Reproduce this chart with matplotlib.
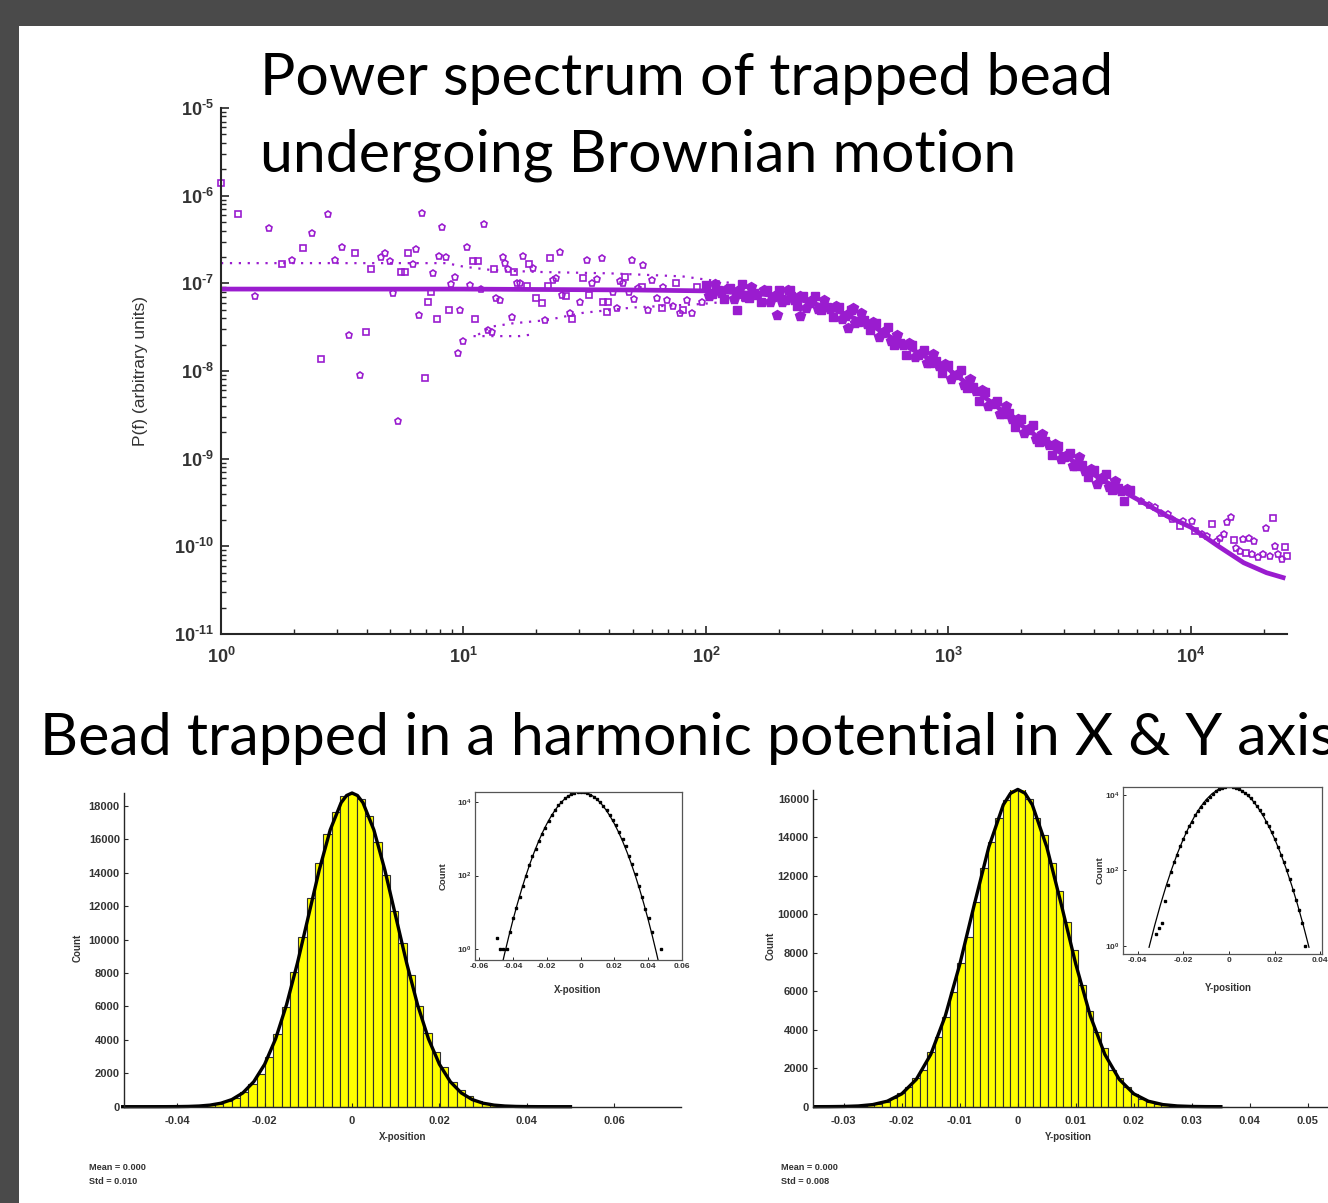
import numpy as np
import matplotlib.pyplot as plt
from matplotlib.patches import Rectangle
from matplotlib.ticker import LogLocator, NullFormatter, NullLocator

W, H = 1328, 1203
PURPLE = '#9a1ccf'
INK = '#262626'
LABEL = '#333333'

plt.rcParams['font.family'] = ['Liberation Sans', 'DejaVu Sans']
plt.rcParams['mathtext.fontset'] = 'custom'
plt.rcParams['mathtext.rm'] = 'Liberation Sans'
plt.rcParams['mathtext.bf'] = 'Liberation Sans:bold'

# ---- power spectrum (Hz, arbitrary units) ----
fit_f = [1, 10, 50, 100, 130, 166, 200, 245, 290, 333, 400, 475, 550, 630, 800,
         1000, 1200, 1500, 2000, 2850, 4230, 6300, 8000, 10000, 13000, 16500, 20500, 24000]
fit_P = [8.6e-8, 8.6e-8, 8.4e-8, 8.2e-8, 7.9e-8, 7.6e-8, 7.1e-8, 6.5e-8, 5.7e-8, 5.1e-8, 4.1e-8,
         3.4e-8, 2.65e-8, 2.1e-8, 1.47e-8, 1.05e-8, 7.1e-9, 4.4e-9, 2.4e-9, 1.2e-9, 5.9e-10,
         3.2e-10, 2.2e-10, 1.65e-10, 1.0e-10, 6.5e-11, 5.0e-11, 4.4e-11]

upper_f = [1, 8.5, 10, 13, 20, 40, 80, 130]
upper_P = [1.7e-7, 1.7e-7, 1.55e-7, 1.42e-7, 1.35e-7, 1.3e-7, 1.2e-7, 1.0e-7]
lower_f = [11.5, 13, 16, 22, 31, 50, 95, 150]
lower_P = [2.6e-8, 3.2e-8, 3.5e-8, 3.8e-8, 4.6e-8, 5.3e-8, 5.8e-8, 6.5e-8]
lower2_f = [11, 12.5, 14.5, 17, 19]
lower2_P = [2.5e-8, 2.5e-8, 2.5e-8, 2.5e-8, 2.6e-8]

sq_f = [1.0, 1.18, 1.78, 2.17, 2.58, 3.57, 3.95, 4.15, 5.52, 5.74,
        5.92, 6.94, 7.16, 7.33, 7.75, 8.74, 10.9, 11.5, 11.2, 13.3,
        16.2, 18.2, 18.7, 20.0, 21.0, 22.7, 22.4, 26.5, 27.9, 31.2,
        33.0, 37.7, 39.6, 39.2, 46.3, 54.3, 65.7, 75.2, 80.2, 92.1]
sq_P = [1.38e-6, 6.2e-7, 1.66e-7, 2.5e-7, 1.36e-8, 2.2e-7, 2.77e-8, 1.46e-7, 1.34e-7, 1.34e-7,
        2.23e-7, 8.35e-9, 6.2e-8, 7.9e-8, 3.9e-8, 5.0e-8, 1.8e-7, 1.8e-7, 3.9e-8, 1.46e-7,
        1.34e-7, 9.4e-8, 1.65e-7, 6.8e-8, 5.9e-8, 1.96e-7, 9.4e-8, 7.2e-8, 3.9e-8, 1.15e-7,
        7.4e-8, 6.1e-8, 6.1e-8, 4.7e-8, 1.17e-7, 9.0e-8, 5.2e-8, 1.0e-7, 5.0e-8, 9.2e-8]

pt_f = [1.38, 1.58, 1.97, 2.37, 2.75, 2.96, 3.16, 3.37, 3.75, 4.56,
        4.75, 4.96, 5.14, 5.36, 6.17, 6.35, 6.55, 6.74, 7.5, 7.92,
        8.13, 8.45, 8.88, 9.25, 9.49, 9.68, 10.0, 10.3, 10.6, 11.8,
        12.2, 12.6, 13.1, 13.6, 14.1, 14.5, 14.9, 15.3, 15.8, 16.7,
        17.1, 17.6, 19.3, 21.7, 23.5, 24.1, 24.9, 25.4, 27.5, 30.2,
        32.2, 33.8, 35.4, 37.2, 41.5, 42.8, 44.2, 45.4, 48.3, 49.4,
        50.5, 52.6, 55.2, 57.8, 59.7, 62.6, 66.7, 68.8, 72.9, 78.1,
        83.2, 87.3, 96.0]
pt_P = [7.2e-8, 4.3e-7, 1.85e-7, 3.8e-7, 6.2e-7, 1.85e-7, 2.57e-7, 2.6e-8, 8.95e-9, 2.0e-7,
        2.23e-7, 1.81e-7, 7.7e-8, 2.72e-9, 1.65e-7, 2.44e-7, 4.4e-8, 6.4e-7, 1.32e-7, 2.05e-7,
        4.4e-7, 1.98e-7, 9.8e-8, 1.19e-7, 1.62e-8, 4.9e-8, 2.2e-8, 2.6e-7, 9.6e-8, 8.6e-8,
        4.7e-7, 2.97e-8, 2.77e-8, 6.8e-8, 6.4e-8, 2.0e-7, 1.72e-7, 1.45e-7, 4.1e-8, 1.02e-7,
        1.0e-7, 2.07e-7, 1.49e-7, 3.86e-8, 1.1e-7, 1.14e-7, 2.29e-7, 7.4e-8, 4.6e-8, 6.1e-8,
        1.85e-7, 1.0e-7, 1.11e-7, 1.93e-7, 7.9e-8, 5.3e-8, 1.05e-7, 1.0e-7, 7.9e-8, 1.85e-7,
        6.6e-8, 8.8e-8, 1.62e-7, 4.9e-8, 1.09e-7, 6.8e-8, 9.2e-8, 6.5e-8, 5.5e-8, 4.6e-8,
        6.5e-8, 4.6e-8, 6.2e-8]

# dense filled band, squares
band_sq_f = [100, 106, 112, 119, 126, 133, 141, 150, 158, 168, 178, 188, 200, 211, 224, 237,
             251, 266, 282, 299, 316, 335, 355, 376, 398, 422, 447, 473, 501, 531, 562, 596,
             631, 668, 708, 750, 794, 841, 891, 944, 1000, 1059, 1122, 1189, 1259, 1334, 1413,
             1496, 1585, 1679, 1778, 1884, 1995, 2113, 2239, 2371, 2512, 2661, 2818, 2985, 3162,
             3350, 3548, 3758, 3981, 4217, 4467, 4732, 5012, 5309, 5623]
band_sq_P = [9.6e-8, 7.5e-8, 8.4e-8, 6.7e-8, 8.9e-8, 7.6e-8, 9.7e-8, 6.8e-8, 7.8e-8, 6.1e-8,
             8.5e-8, 6.9e-8, 8.3e-8, 6.4e-8, 7.1e-8, 5.5e-8, 7.1e-8, 5.9e-8, 7.2e-8, 4.9e-8,
             5.4e-8, 4.1e-8, 5.4e-8, 4.2e-8, 4.9e-8, 3.6e-8, 3.8e-8, 2.9e-8, 3.5e-8, 2.7e-8,
             3.2e-8, 2.0e-8, 2.1e-8, 1.54e-8, 2.0e-8, 1.54e-8, 1.74e-8, 1.25e-8, 1.3e-8, 9.6e-9,
             1.18e-8, 9.0e-9, 1.02e-8, 6.4e-9, 6.5e-9, 4.5e-9, 5.7e-9, 4.2e-9, 4.6e-9, 3.2e-9,
             3.3e-9, 2.3e-9, 2.8e-9, 2.1e-9, 2.4e-9, 1.53e-9, 1.58e-9, 1.11e-9, 1.41e-9, 1.05e-9,
             1.17e-9, 8.3e-10, 8.5e-10, 6.1e-10, 7.4e-10, 5.8e-10, 6.7e-10, 4.4e-10, 4.6e-10,
             3.3e-10, 4.4e-10]
# dense filled band, pentagons
band_pt_f = [103, 109, 115.5, 122, 130, 137, 145, 154, 163, 173, 183, 194, 205, 218, 230, 244,
             259, 274, 290, 307, 325, 345, 365, 387, 410, 434, 460, 487, 516, 546, 579, 613,
             649, 688, 729, 772, 818, 866, 917, 972, 1029, 1090, 1155, 1223, 1296, 1373, 1454,
             1540, 1632, 1728, 1830, 1939, 2054, 2176, 2305, 2441, 2586, 2739, 2901, 3073, 3255,
             3448, 3652, 3868, 4097, 4340, 4597, 4870, 5158, 5464]
band_pt_P = [7.1e-8, 9.8e-8, 7.7e-8, 8.7e-8, 6.6e-8, 8.4e-8, 7.0e-8, 9.0e-8, 7.4e-8, 8.4e-8,
             6.2e-8, 7.4e-8, 6.1e-8, 8.3e-8, 6.4e-8, 7.1e-8, 5.2e-8, 6.4e-8, 5.1e-8, 6.4e-8,
             5.1e-8, 5.5e-8, 3.9e-8, 4.45e-8, 3.5e-8, 4.6e-8, 3.4e-8, 3.6e-8, 2.46e-8, 2.87e-8,
             2.19e-8, 2.58e-8, 1.96e-8, 2.06e-8, 1.43e-8, 1.6e-8, 1.23e-8, 1.58e-8, 1.14e-8, 1.2e-8,
             8.2e-9, 9.3e-9, 6.95e-9, 8.0e-9, 5.9e-9, 6.0e-9, 4.0e-9, 4.3e-9, 3.23e-9, 4.0e-9,
             2.81e-9, 2.87e-9, 1.94e-9, 2.22e-9, 1.66e-9, 1.93e-9, 1.43e-9, 1.46e-9, 9.9e-10,
             1.09e-9, 8.2e-10, 1.04e-9, 7.3e-10, 7.6e-10, 5.2e-10, 6.1e-10, 4.7e-10, 5.6e-10,
             4.25e-10, 4.46e-10]
band_out_sq_f = [134, 222]
band_out_sq_P = [5.0e-8, 8.5e-8]
band_out_pt_f = [197, 244, 385, 404]
band_out_pt_P = [4.4e-8, 4.2e-8, 3.1e-8, 5.3e-8]

hf_sq_f = [9010, 10400, 12250, 15040, 16860, 21710, 24400, 24940]
hf_sq_P = [1.69e-10, 1.48e-10, 1.81e-10, 1.17e-10, 8.4e-11, 2.1e-10, 9.8e-11, 7.7e-11]
hf_pt_f = [6200, 6700, 7110, 7500, 8070, 8330, 9250, 10070, 11080, 11600, 12760, 13180, 13680,
           14120, 14630, 15340, 15930, 16430, 17350, 17780, 18240, 18940, 19870, 20370, 21160,
           22200, 22900, 23650]
hf_pt_P = [3.3e-10, 3.0e-10, 2.8e-10, 2.4e-10, 2.33e-10, 2.06e-10, 1.95e-10, 1.92e-10, 1.38e-10,
           1.3e-10, 1.14e-10, 1.25e-10, 1.38e-10, 1.89e-10, 2.15e-10, 9.6e-11, 8.8e-11, 1.22e-10,
           1.25e-10, 8.2e-11, 1.16e-10, 7.5e-11, 8.2e-11, 1.62e-10, 7.7e-11, 1.02e-10, 8.1e-11,
           7.1e-11]

# ---- position histograms ----
x_first_edge, x_bin_width = -0.05236, 0.001908
x_counts = [0, 2, 1, 1, 1, 3, 7, 13, 27, 52, 100, 190, 330, 520, 870, 1350, 1950, 2950, 4350,
            5950, 8050, 10150, 12500, 14600, 16300, 17650, 18600, 18750, 18400, 17400, 15850,
            13850, 11700, 9800, 7880, 6000, 4400, 3250, 2350, 1500, 1000, 620, 350, 200, 110,
            52, 27, 12, 7, 3, 0, 0, 1]
fitx_x = [-0.0525, -0.05, -0.0475, -0.045, -0.0425, -0.04, -0.0375, -0.035, -0.0325, -0.03,
          -0.0275, -0.025, -0.0225, -0.02, -0.0175, -0.015, -0.0125, -0.01, -0.0075, -0.005,
          -0.0025, -0.00125, 0, 0.00125, 0.0025, 0.005, 0.0075, 0.01, 0.0125, 0.015, 0.0175,
          0.02, 0.0225, 0.025, 0.0275, 0.03, 0.0325, 0.035, 0.0375, 0.04, 0.0425, 0.045,
          0.0475, 0.05]
fitx_y = [0.019, 0.070, 0.237, 0.75, 2.24, 6.3, 16.6, 41.1, 95.5, 209, 428, 825, 1495, 2540,
          4060, 6100, 8600, 11390, 14180, 16570, 18200, 18630, 18780, 18630, 18200, 16570,
          14180, 11390, 8600, 6100, 4060, 2540, 1495, 825, 428, 209, 95.5, 41.1, 16.6, 6.3,
          2.24, 0.75, 0.237, 0.070]

y_first_edge, y_bin_width = -0.0364, 0.0013
y_counts = [0, 0, 0, 2, 3, 4, 15, 40, 90, 165, 260, 430, 690, 1040, 1510, 1900, 2860, 3600,
            4680, 5980, 7450, 8840, 10660, 12390, 13780, 15000, 15950, 16500, 16500, 16000,
            15000, 14120, 12650, 11210, 9620, 8150, 6330, 4970, 3900, 3030, 1900, 1480, 1000,
            660, 420, 260, 165, 98, 60, 30, 16, 9, 4, 1, 0, 0]
fity_x = [-0.035, -0.0325, -0.03, -0.0275, -0.025, -0.0225, -0.02, -0.0175, -0.015, -0.0125,
          -0.01, -0.0075, -0.005, -0.0025, -0.00125, 0, 0.00125, 0.0025, 0.005, 0.0075, 0.01,
          0.0125, 0.015, 0.0175, 0.02, 0.0225, 0.025, 0.0275, 0.03, 0.0325, 0.035]
fity_y = [0.905, 3.49, 12.2, 38.6, 110, 286, 669, 1419, 2720, 4720, 7405, 10510, 13500, 15700,
          16300, 16500, 16300, 15700, 13500, 10510, 7405, 4720, 2720, 1419, 669, 286, 110, 38.6,
          12.2, 3.49, 0.905]

fig = plt.figure(figsize=(W / 100, H / 100), dpi=100, facecolor='#4a4a4a')
fig.patches.append(Rectangle((19 / W, 0), 1 - 19 / W, 1 - 26 / H, transform=fig.transFigure,
                             facecolor='white', edgecolor='none', zorder=-10))


def box(l, t, r, b):
    # axes placed by pixel edges on the slide
    return fig.add_axes([l / W, 1 - b / H, (r - l) / W, (b - t) / H])


def sup(s):
    # power-of-ten label with a short hyphen in the exponent
    return r'$\mathbf{10^{%s}}$' % str(s).replace('-', '\u2010')


# ---------------- power spectrum ----------------
ax = box(221, 108, 1287, 634)
ax.set_xscale('log')
ax.set_yscale('log')
dots = dict(ls=(0, (1, 3)), lw=1.6, color=PURPLE)
ax.plot(upper_f, upper_P, **dots)
ax.plot(lower_f, lower_P, **dots)
ax.plot(lower2_f, lower2_P, **dots)
ax.plot(fit_f, fit_P, color=PURPLE, lw=3.4)
open_kw = dict(ls='none', mfc='none', mec=PURPLE, mew=1.2, clip_on=False)
ax.plot(sq_f, sq_P, 's', ms=4, **open_kw)
ax.plot(pt_f, pt_P, 'p', ms=5, **open_kw)
ax.plot(hf_sq_f, hf_sq_P, 's', ms=4, **open_kw)
ax.plot(hf_pt_f, hf_pt_P, 'p', ms=5, **open_kw)
ax.plot(band_sq_f, band_sq_P, 's', ms=6, color=PURPLE, ls='none')
ax.plot(band_pt_f, band_pt_P, 'p', ms=7.5, color=PURPLE, ls='none')
ax.plot(band_out_sq_f, band_out_sq_P, 's', ms=6, color=PURPLE, ls='none')
ax.plot(band_out_pt_f, band_out_pt_P, 'p', ms=7.5, color=PURPLE, ls='none')

ax.set_xlim(1, 2.49e4)
ax.set_ylim(1e-11, 1e-5)
ax.set_xticks([1, 10, 100, 1e3, 1e4])
ax.set_xticklabels([sup(i) for i in range(5)])
ax.set_yticks([1e-11, 1e-10, 1e-9, 1e-8, 1e-7, 1e-6, 1e-5])
ax.set_yticklabels([sup(-i) for i in range(11, 4, -1)])
for axis in (ax.xaxis, ax.yaxis):
    axis.set_minor_locator(LogLocator(base=10, subs=np.arange(2, 10), numticks=20))
    axis.set_minor_formatter(NullFormatter())
ax.tick_params(which='both', direction='in', color=INK, labelcolor=LABEL)
ax.tick_params(which='major', length=6, width=1.2, labelsize=13)
ax.tick_params(which='minor', length=3.5, width=1)
ax.tick_params(axis='x', pad=9)
ax.tick_params(axis='y', pad=5)
for side in ('top', 'right'):
    ax.spines[side].set_visible(False)
for side in ('left', 'bottom'):
    ax.spines[side].set_color(INK)
    ax.spines[side].set_linewidth(1.5)
ax.set_ylabel('P(f) (arbitrary units)', fontsize=12.5, color=LABEL)
ax.yaxis.set_label_coords((148 - 221) / 1066, 0.5)


# ---------------- histograms ----------------
def histogram(l, t, r, b, first_edge, width, counts, fit_x, fit_y, xlim, ylim, xticks, xlabels,
              yticks):
    h = box(l, t, r, b)
    edges = first_edge + width * np.arange(len(counts) + 1)
    h.bar(edges[:-1], counts, width=width, align='edge', color='#ffff00',
          edgecolor='#303030', linewidth=0.8)
    h.plot(fit_x, fit_y, color='black', lw=2.4, clip_on=False)
    h.set_xlim(*xlim)
    h.set_ylim(*ylim)
    h.set_xticks(xticks)
    h.set_xticklabels(xlabels)
    h.set_yticks(yticks)
    h.set_yticklabels([str(v) for v in yticks])
    h.tick_params(direction='in', length=3, width=0.8, color=INK, labelcolor=LABEL,
                  labelsize=8)
    h.tick_params(axis='x', pad=7)
    h.tick_params(axis='y', pad=3)
    for lab in h.get_xticklabels() + h.get_yticklabels():
        lab.set_fontweight('bold')
    for side in ('top', 'right'):
        h.spines[side].set_visible(False)
    for side in ('left', 'bottom'):
        h.spines[side].set_color(INK)
        h.spines[side].set_linewidth(1)
    return edges


def inset(l, t, r, b, edges, counts, fit_x, fit_y, xlim, ylim, xticks, xlabels):
    a = box(l, t, r, b)
    a.set_yscale('log')
    centers = edges[:-1] + np.diff(edges) / 2
    cnt = np.asarray(counts, dtype=float)
    keep = cnt > 0
    a.plot(fit_x, fit_y, color='black', lw=0.9)
    a.plot(centers[keep], cnt[keep], 's', ms=1.8, color='black')
    a.set_xlim(*xlim)
    a.set_ylim(*ylim)
    a.set_xticks(xticks)
    a.set_xticklabels(xlabels)
    a.set_yticks([1, 100, 1e4])
    a.set_yticklabels([sup(0), sup(2), sup(4)])
    a.yaxis.set_minor_locator(NullLocator())
    a.tick_params(direction='in', length=2.5, width=0.7, color=INK, labelcolor=LABEL,
                  labelsize=6, pad=2.5)
    for lab in a.get_xticklabels():
        lab.set_fontweight('bold')
    for s in a.spines.values():
        s.set_color('#555555')
        s.set_linewidth(0.9)


def fig_text(x, y, s, size, **kw):
    fig.text(x / W, 1 - y / H, s, fontsize=size, fontweight='bold', color=LABEL, **kw)


ex = histogram(124, 793, 681, 1106.7, x_first_edge, x_bin_width, x_counts, fitx_x, fitx_y,
               (-0.0522, 0.0753), (0, 18780), [-0.04, -0.02, 0, 0.02, 0.04, 0.06],
               ['-0.04', '-0.02', '0', '0.02', '0.04', '0.06'],
               [0, 2000, 4000, 6000, 8000, 10000, 12000, 14000, 16000, 18000])
inset(475, 792, 682, 960, ex, x_counts, fitx_x, fitx_y, (-0.0625, 0.06), (0.51, 18600),
      [-0.06, -0.04, -0.02, 0, 0.02, 0.04, 0.06],
      ['-0.06', '-0.04', '-0.02', '0', '0.02', '0.04', '0.06'])

ey = histogram(813, 790, 1334, 1106.7, y_first_edge, y_bin_width, y_counts, fity_x, fity_y,
               (-0.0353, 0.0545), (0, 16470), [-0.03, -0.02, -0.01, 0, 0.01, 0.02, 0.03, 0.04, 0.05],
               ['-0.03', '-0.02', '-0.01', '0', '0.01', '0.02', '0.03', '0.04', '0.05'],
               [0, 2000, 4000, 6000, 8000, 10000, 12000, 14000, 16000])
inset(1123, 787, 1322, 954, ey, y_counts, fity_x, fity_y, (-0.0464, 0.0407), (0.6, 16000),
      [-0.04, -0.02, 0, 0.02, 0.04], ['-0.04', '-0.02', '0', '0.02', '0.04'])

# axis captions and statistics
fig_text(78, 948, 'Count', 7, rotation=90, ha='center', va='center')
fig_text(403, 1137, 'X-position', 7, ha='center', va='center')
fig_text(443, 876, 'Count', 6.8, rotation=90, ha='center', va='center')
fig_text(578, 990, 'X-position', 7, ha='center', va='center')
fig_text(89, 1167, 'Mean = 0.000', 6.6, ha='left', va='center')
fig_text(89, 1182, 'Std = 0.010', 6.6, ha='left', va='center')

fig_text(771, 946, 'Count', 7, rotation=90, ha='center', va='center')
fig_text(1068, 1137, 'Y-position', 7, ha='center', va='center')
fig_text(1100, 870, 'Count', 6.8, rotation=90, ha='center', va='center')
fig_text(1228, 988, 'Y-position', 7, ha='center', va='center')
fig_text(781, 1167, 'Mean = 0.000', 6.6, ha='left', va='center')
fig_text(781, 1182, 'Std = 0.008', 6.6, ha='left', va='center')

# slide headings
head = dict(fontsize=42.5, family=['Lato', 'DejaVu Sans'], color='black', va='baseline',
            ha='left')
fig.text(260 / W, 1 - 95 / H, 'Power spectrum of trapped bead', **head)
fig.text(260 / W, 1 - 172 / H, 'undergoing Brownian motion', **head)
fig.text(40 / W, 1 - 755 / H, 'Bead trapped in a harmonic potential in X & Y axis', **head)

fig.savefig('out.png', dpi=100, facecolor=fig.get_facecolor())
